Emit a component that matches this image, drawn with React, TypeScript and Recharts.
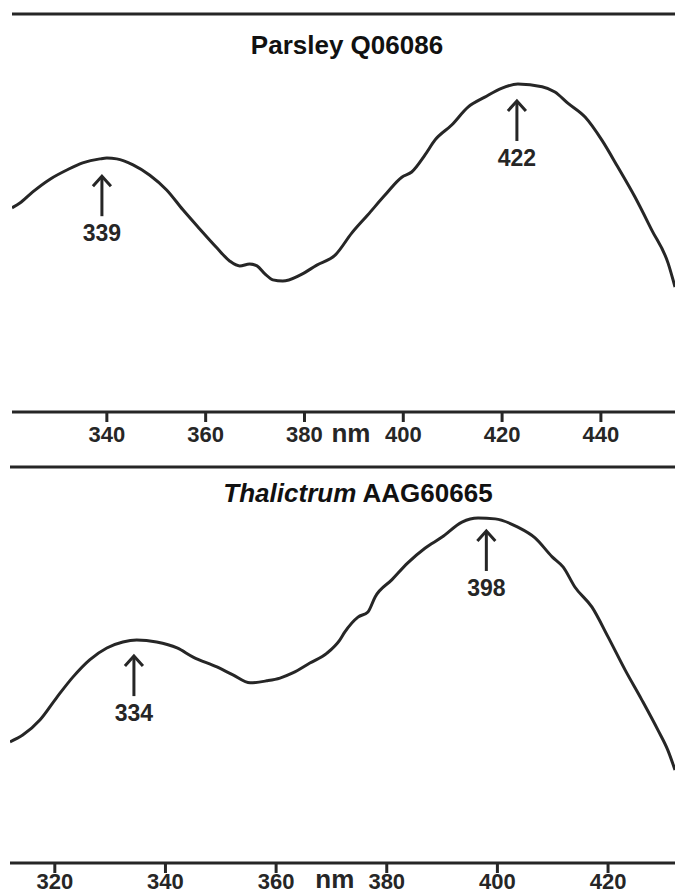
import { LineChart, Line, XAxis, YAxis, ReferenceLine, ReferenceDot } from "recharts";

const INK = "#262626";
const FONT = "'Liberation Sans', Arial, Helvetica, sans-serif";

// Parsley Q06086 spectrum (nm, relative intensity 0-100)
const PARSLEY_NM = [
  320.8, 322.4, 325.0, 328.5, 331.9, 335.1, 338.6, 340.0, 342.0, 345.3, 348.7, 352.1,
  355.4, 358.8, 362.3, 364.9, 366.9, 368.9, 370.4, 372.0, 373.6, 375.6, 379.1, 382.5,
  386.2, 389.6, 392.8, 396.3, 399.7, 401.7, 404.4, 406.4, 409.8, 413.1, 416.5, 420.0,
  423.2, 428.1, 430.7, 433.3, 436.8, 440.2, 443.4, 446.9, 450.3, 453.6, 455.0,
];
const PARSLEY_ABS = [
  51.3, 52.5, 55.3, 58.5, 60.8, 62.6, 63.6, 63.8, 63.6, 62.1, 59.5, 55.8,
  50.8, 46.0, 41.2, 37.9, 36.7, 37.2, 36.7, 34.7, 33.2, 32.9, 34.4, 36.9,
  39.4, 45.0, 49.5, 54.5, 59.0, 60.3, 64.6, 68.3, 72.1, 76.6, 79.1, 81.4,
  82.4, 81.7, 80.4, 77.6, 74.1, 68.3, 61.6, 54.0, 45.7, 37.4, 31.4,
];
const PARSLEY_TICKS = [340, 360, 380, 400, 420, 440];
const PARSLEY_PEAK_NM = [339, 423];
const PARSLEY_PEAK_TOP = [59.5, 78.4];
const PARSLEY_PEAK_LABELS = ["339", "422"];

// Thalictrum AAG60665 spectrum
const THAL_NM = [
  311.9, 314.2, 317.3, 320.4, 323.3, 326.3, 329.4, 332.3, 334.8, 338.4, 342.1, 345.0,
  349.3, 352.2, 355.3, 358.3, 360.7, 363.0, 366.1, 369.2, 371.5, 372.4, 374.8, 376.6,
  377.9, 380.9, 383.8, 386.9, 390.0, 393.6, 396.5, 399.6, 403.7, 406.8, 409.9, 411.9,
  414.0, 417.1, 420.0, 423.1, 426.1, 429.0, 430.8, 432.1,
];
const THAL_ABS = [
  30.6, 32.3, 36.1, 41.9, 47.0, 51.3, 54.3, 55.8, 56.3, 55.8, 54.3, 52.0,
  49.5, 47.5, 45.5, 46.0, 46.7, 48.0, 50.5, 53.0, 56.3, 58.3, 62.1, 63.4,
  67.2, 71.5, 75.8, 79.5, 82.3, 86.1, 87.1, 86.9, 84.8, 82.1, 77.3, 74.7,
  69.7, 64.6, 57.1, 48.7, 41.2, 33.6, 28.5, 23.5,
];
const THAL_TICKS = [320, 340, 360, 380, 400, 420];
const THAL_PEAK_NM = [334.3, 398];
const THAL_PEAK_TOP = [52.5, 84.1];
const THAL_PEAK_LABELS = ["334", "398"];

function PeakArrow(props: any) {
  const { cx, cy, label } = props;
  return (
    <g>
      <line x1={cx} y1={cy + 1} x2={cx} y2={cy + 41} stroke={INK} strokeWidth={3} />
      <polyline
        points={`${cx - 9},${cy + 11} ${cx},${cy + 1} ${cx + 9},${cy + 11}`}
        fill="none"
        stroke={INK}
        strokeWidth={3}
      />
      <text x={cx} y={cy + 66} textAnchor="middle" fontSize={23} fontWeight={700} fill={INK} fontFamily={FONT}>
        {label}
      </text>
    </g>
  );
}

function UnitLabel(props: any) {
  const { cx, cy, dy } = props;
  return (
    <text x={cx} y={cy + dy} textAnchor="middle" fontSize={26} fontWeight={700} fill={INK} fontFamily={FONT}>
      nm
    </text>
  );
}

interface PanelProps {
  nm: number[];
  abs: number[];
  domain: [number, number];
  ticks: number[];
  peakNm: number[];
  peakTop: number[];
  peakLabels: string[];
  unitAt: number;
  unitDy: number;
  height: number;
  top: number;
  marginTop: number;
  marginLeft: number;
  axisHeight: number;
  tickMargin: number;
}

function Panel(p: PanelProps) {
  const data = p.nm.map((x, i) => ({ nm: x, abs: p.abs[i] }));
  return (
    <div style={{ position: "absolute", left: 0, top: p.top }}>
      <LineChart
        width={675}
        height={p.height}
        data={data}
        margin={{ top: p.marginTop, right: 0, bottom: 0, left: p.marginLeft }}
      >
        <XAxis
          dataKey="nm"
          type="number"
          domain={p.domain}
          ticks={p.ticks}
          interval={0}
          allowDataOverflow
          height={p.axisHeight}
          tickSize={10}
          tickMargin={p.tickMargin}
          tick={{ fontSize: 22, fontWeight: 700, fill: INK, fontFamily: FONT }}
          axisLine={{ stroke: INK, strokeWidth: 3 }}
          tickLine={{ stroke: INK, strokeWidth: 3 }}
        />
        <YAxis
          type="number"
          domain={[0, 100]}
          width={0}
          tick={false}
          tickLine={false}
          axisLine={{ stroke: INK, strokeWidth: 3 }}
        />
        <ReferenceLine y={100} stroke={INK} strokeWidth={3} />
        <Line
          type="monotone"
          dataKey="abs"
          stroke={INK}
          strokeWidth={3}
          dot={false}
          isAnimationActive={false}
        />
        {p.peakNm.map((x, i) => (
          <ReferenceDot
            key={i}
            x={x}
            y={p.peakTop[i]}
            ifOverflow="visible"
            shape={(sp: any) => <PeakArrow {...sp} label={p.peakLabels[i]} />}
          />
        ))}
        <ReferenceDot
          x={p.unitAt}
          y={0}
          ifOverflow="visible"
          shape={(sp: any) => <UnitLabel {...sp} dy={p.unitDy} />}
        />
      </LineChart>
    </div>
  );
}

export default function App() {
  return (
    <div
      style={{
        position: "absolute",
        left: 0,
        top: 0,
        width: 675,
        height: 896,
        overflow: "hidden",
        background: "#fff",
      }}
    >
      <Panel
        nm={PARSLEY_NM}
        abs={PARSLEY_ABS}
        domain={[320.8, 455]}
        ticks={PARSLEY_TICKS}
        peakNm={PARSLEY_PEAK_NM}
        peakTop={PARSLEY_PEAK_TOP}
        peakLabels={PARSLEY_PEAK_LABELS}
        unitAt={389.4}
        unitDy={30}
        height={450}
        top={0}
        marginTop={14}
        marginLeft={12}
        axisHeight={38}
        tickMargin={4}
      />
      <Panel
        nm={THAL_NM}
        abs={THAL_ABS}
        domain={[311.9, 432.1]}
        ticks={THAL_TICKS}
        peakNm={THAL_PEAK_NM}
        peakTop={THAL_PEAK_TOP}
        peakLabels={THAL_PEAK_LABELS}
        unitAt={370.6}
        unitDy={25}
        height={446}
        top={450}
        marginTop={17}
        marginLeft={10}
        axisHeight={33}
        tickMargin={0}
      />
      <svg
        width={675}
        height={896}
        style={{ position: "absolute", left: 0, top: 0, pointerEvents: "none" }}
      >
        <text x={347} y={54} textAnchor="middle" fontSize={26} fontWeight={700} fill="#111" fontFamily={FONT}>
          Parsley Q06086
        </text>
        <text x={358} y={502} textAnchor="middle" fontSize={26} fontWeight={700} fill="#111" fontFamily={FONT}>
          <tspan fontStyle="italic">Thalictrum</tspan> AAG60665
        </text>
      </svg>
    </div>
  );
}
